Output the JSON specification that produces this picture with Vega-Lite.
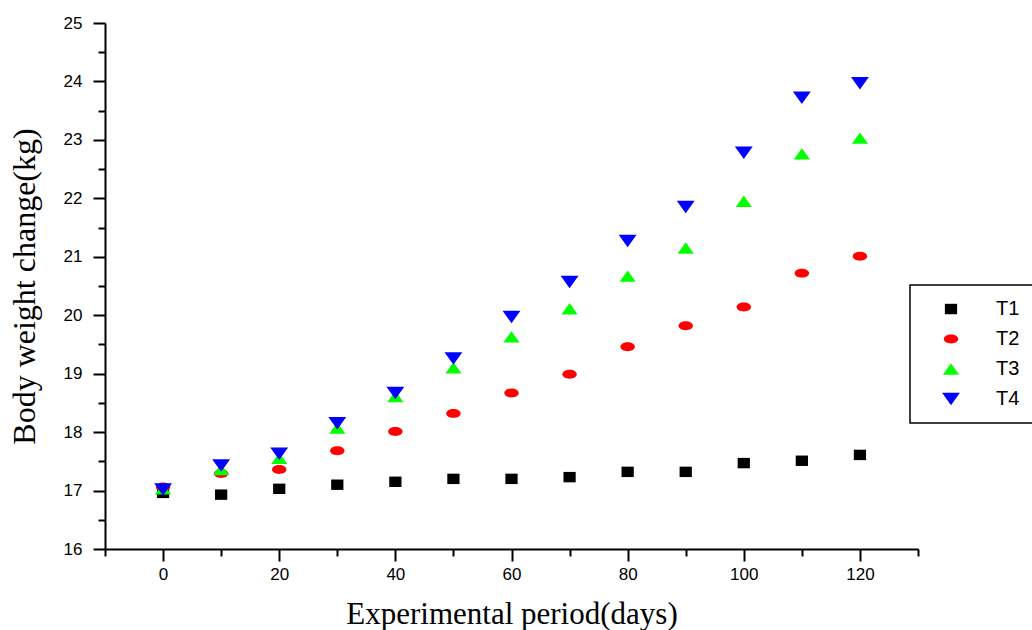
{
  "$schema": "https://vega.github.io/schema/vega-lite/v6.json",
  "autosize": {"type": "none"},
  "padding": {"left": 105, "top": 23, "right": 114, "bottom": 81},
  "width": 813,
  "height": 526,
  "background": "white",
  "config": {
    "view": {"stroke": null},
    "axis": {"grid": false, "domainColor": "black", "domainWidth": 2, "tickColor": "black", "tickWidth": 2, "labelColor": "black", "titleColor": "black"},
    "legend": {"strokeWidth": 1.5}
  },
  "data": {
    "values": [
      {"day": 0, "group": "T1", "weight": 16.96},
      {"day": 10, "group": "T1", "weight": 16.93},
      {"day": 20, "group": "T1", "weight": 17.03},
      {"day": 30, "group": "T1", "weight": 17.10},
      {"day": 40, "group": "T1", "weight": 17.15},
      {"day": 50, "group": "T1", "weight": 17.20},
      {"day": 60, "group": "T1", "weight": 17.20},
      {"day": 70, "group": "T1", "weight": 17.23},
      {"day": 80, "group": "T1", "weight": 17.32},
      {"day": 90, "group": "T1", "weight": 17.32},
      {"day": 100, "group": "T1", "weight": 17.47},
      {"day": 110, "group": "T1", "weight": 17.51},
      {"day": 120, "group": "T1", "weight": 17.61},
      {"day": 0, "group": "T2", "weight": 17.06},
      {"day": 10, "group": "T2", "weight": 17.29},
      {"day": 20, "group": "T2", "weight": 17.36},
      {"day": 30, "group": "T2", "weight": 17.68},
      {"day": 40, "group": "T2", "weight": 18.01},
      {"day": 50, "group": "T2", "weight": 18.32},
      {"day": 60, "group": "T2", "weight": 18.67},
      {"day": 70, "group": "T2", "weight": 18.99},
      {"day": 80, "group": "T2", "weight": 19.46},
      {"day": 90, "group": "T2", "weight": 19.82},
      {"day": 100, "group": "T2", "weight": 20.14},
      {"day": 110, "group": "T2", "weight": 20.72},
      {"day": 120, "group": "T2", "weight": 21.01},
      {"day": 0, "group": "T3", "weight": 17.03},
      {"day": 10, "group": "T3", "weight": 17.36},
      {"day": 20, "group": "T3", "weight": 17.55},
      {"day": 30, "group": "T3", "weight": 18.07},
      {"day": 40, "group": "T3", "weight": 18.61},
      {"day": 50, "group": "T3", "weight": 19.10},
      {"day": 60, "group": "T3", "weight": 19.63},
      {"day": 70, "group": "T3", "weight": 20.11},
      {"day": 80, "group": "T3", "weight": 20.67},
      {"day": 90, "group": "T3", "weight": 21.15},
      {"day": 100, "group": "T3", "weight": 21.95},
      {"day": 110, "group": "T3", "weight": 22.76},
      {"day": 120, "group": "T3", "weight": 23.03},
      {"day": 0, "group": "T4", "weight": 17.02},
      {"day": 10, "group": "T4", "weight": 17.43},
      {"day": 20, "group": "T4", "weight": 17.63},
      {"day": 30, "group": "T4", "weight": 18.15},
      {"day": 40, "group": "T4", "weight": 18.67},
      {"day": 50, "group": "T4", "weight": 19.26},
      {"day": 60, "group": "T4", "weight": 19.97},
      {"day": 70, "group": "T4", "weight": 20.57},
      {"day": 80, "group": "T4", "weight": 21.27},
      {"day": 90, "group": "T4", "weight": 21.85},
      {"day": 100, "group": "T4", "weight": 22.78},
      {"day": 110, "group": "T4", "weight": 23.72},
      {"day": 120, "group": "T4", "weight": 23.97}
    ]
  },
  "mark": {"type": "point", "filled": true, "opacity": 1, "size": 200},
  "encoding": {
    "x": {
      "field": "day", "type": "quantitative",
      "scale": {"domain": [-10, 130], "nice": false, "zero": false},
      "axis": {
        "title": "Experimental period(days)",
        "titleFont": "Liberation Serif", "titleFontSize": 31, "titleFontWeight": "normal", "titlePadding": 17,
        "values": [-10, 0, 10, 20, 30, 40, 50, 60, 70, 80, 90, 100, 110, 120, 130],
        "labelExpr": "datum.value % 20 === 0 && datum.value >= 0 && datum.value <= 120 ? format(datum.value, 'd') : ''",
        "tickSize": {"condition": {"test": "datum.value % 20 !== 0", "value": 7}, "value": 12},
        "labelFont": "Liberation Sans", "labelFontSize": 17, "labelPadding": 5,
        "labelFlush": false, "labelOverlap": false
      }
    },
    "y": {
      "field": "weight", "type": "quantitative",
      "scale": {"domain": [16, 25], "nice": false, "zero": false},
      "axis": {
        "title": "Body weight change(kg)",
        "titleFont": "Liberation Serif", "titleFontSize": 32, "titleFontWeight": "normal", "titlePadding": 22,
        "values": [16, 16.5, 17, 17.5, 18, 18.5, 19, 19.5, 20, 20.5, 21, 21.5, 22, 22.5, 23, 23.5, 24, 24.5, 25],
        "labelExpr": "datum.value % 1 === 0 ? format(datum.value, 'd') : ''",
        "tickSize": {"condition": {"test": "datum.value % 1 !== 0", "value": 7}, "value": 12},
        "labelFont": "Liberation Sans", "labelFontSize": 17, "labelPadding": 11,
        "labelFlush": false, "labelOverlap": false
      }
    },
    "shape": {
      "field": "group", "type": "nominal",
      "scale": {
        "domain": ["T1", "T2", "T3", "T4"],
        "range": [
          "M -1 -0.85 L 1 -0.85 L 1 0.85 L -1 0.85 Z",
          "M -1 0 A 1 0.62 0 1 0 1 0 A 1 0.62 0 1 0 -1 0 Z",
          "M -1 0.7 L 1 0.7 L 0 -0.7 Z",
          "M -1 -0.7 L 1 -0.7 L 0 0.7 Z"
        ]
      },
      "legend": null
    },
    "size": {
      "field": "group", "type": "nominal",
      "scale": {"domain": ["T1", "T2", "T3", "T4"], "range": [150, 320, 260, 260]},
      "legend": null
    },
    "color": {
      "field": "group", "type": "nominal",
      "scale": {"domain": ["T1", "T2", "T3", "T4"], "range": ["#000000", "#ff0000", "#00ff00", "#0000ff"]},
      "legend": {
        "title": null, "orient": "none", "legendX": 805, "legendY": 262,
        "strokeColor": "black", "padding": 14,
        "symbolType": "square",
        "labelFont": "Liberation Sans", "labelFontSize": 20, "labelColor": "black",
        "labelOffset": 35, "rowPadding": 10, "symbolOffset": 17
      }
    }
  }
}
